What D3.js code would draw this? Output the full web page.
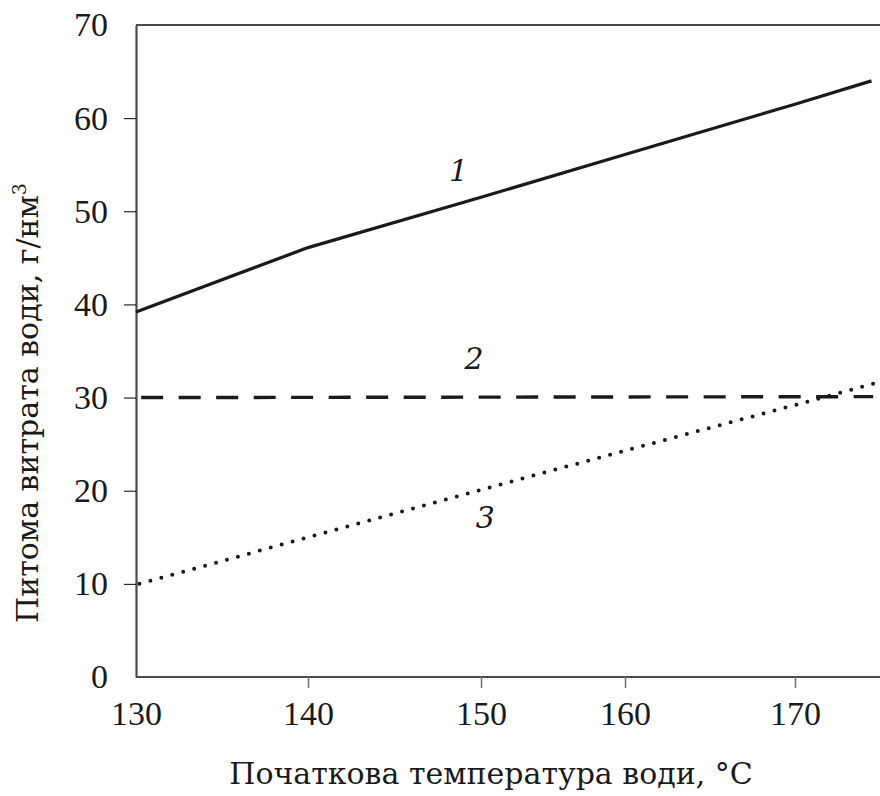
<!DOCTYPE html>
<html><head><meta charset="utf-8">
<script src="https://cdn.jsdelivr.net/npm/d3@7"></script>
<style>
body{margin:0;background:#fff;}
svg text{font-family:"Liberation Serif","Times New Roman",serif;fill:#1a1a1a;}
</style></head>
<body><svg id="c" width="880" height="796"></svg>
<script>
// Data
const xTicks = [130, 140, 150, 160, 170];
const yTicks = [0, 10, 20, 30, 40, 50, 60, 70];
const curve1T = [130, 140, 150, 160, 170, 174.5];
const curve1V = [39.2, 46.1, 51.5, 56.1, 61.5, 64.0];
const curve2T = [130.3, 174.6];
const curve2V = [30.0, 30.1];
const curve3T = [130.2, 140, 150, 160, 170, 174.8];
const curve3V = [10.0, 15.0, 20.1, 24.3, 29.2, 31.6];
const curveLabels = ["1", "2", "3"];
const labelT = [148.7, 149.6, 150.3];
const labelV = [53.3, 33.1, 16.0];
const xTitle = "Початкова температура води, °C";
const yTitleMain = "Питома витрата води, г/нм";
const yTitleSup = "3";

const svg = d3.select("#c");
// Piecewise-linear x scale reproducing the tick spacing of the original figure
const x = d3.scaleLinear().domain([130, 140, 150, 160, 170, 175]).range([136, 308, 481, 625, 795, 880]);
const y = d3.scaleLinear().domain([0, 70]).range([677, 25]);

const axisColor = "#4a4a4a";
const titleFont = "'DejaVu Serif', serif";

// top border
svg.append("line").attr("x1", x(130)).attr("x2", 880).attr("y1", y(70)).attr("y2", y(70))
  .attr("stroke", axisColor).attr("stroke-width", 2);

// x axis
const gx = svg.append("g").attr("transform", `translate(0,${y(0)})`)
  .call(d3.axisBottom(x).tickValues(xTicks).tickSize(11).tickPadding(13).tickSizeOuter(0).tickFormat(d3.format("d")));
gx.select(".domain").attr("stroke", axisColor).attr("stroke-width", 2.2).attr("d", `M${x(130)},0H880`);
gx.selectAll(".tick line").attr("stroke", "#777").attr("stroke-width", 1.6);
gx.selectAll(".tick").filter(d => d === 130).select("line").remove();
gx.selectAll(".tick text").attr("font-size", 34).attr("fill", "#1a1a1a")
  .style("font-family", "'Liberation Serif', serif");

// y axis
const gy = svg.append("g").attr("transform", `translate(${x(130)},0)`)
  .call(d3.axisLeft(y).tickValues(yTicks).tickSize(12).tickPadding(16).tickSizeOuter(0).tickFormat(d3.format("d")));
gy.select(".domain").attr("stroke", axisColor).attr("stroke-width", 2.2);
gy.selectAll(".tick").filter(d => d === 0 || d === 70).select("line").remove();
gy.selectAll(".tick text").attr("font-size", 34).attr("fill", "#1a1a1a")
  .style("font-family", "'Liberation Serif', serif");

const line = d3.line().x(d => x(d[0])).y(d => y(d[1]));
const zip = (a, b) => a.map((t, i) => [t, b[i]]);

svg.append("path").datum(zip(curve1T, curve1V)).attr("d", line)
  .attr("fill", "none").attr("stroke", "#1a1a1a").attr("stroke-width", 3.2).attr("stroke-linejoin", "round");
svg.append("path").datum(zip(curve2T, curve2V)).attr("d", line)
  .attr("fill", "none").attr("stroke", "#1a1a1a").attr("stroke-width", 3.4).attr("stroke-dasharray", "22 15.5");
svg.append("path").datum(zip(curve3T, curve3V)).attr("d", line)
  .attr("fill", "none").attr("stroke", "#1a1a1a").attr("stroke-width", 4).attr("stroke-linecap", "round")
  .attr("stroke-dasharray", "0 11.35");

// curve number labels
svg.selectAll("text.cl").data(curveLabels).enter().append("text").attr("class", "cl")
  .attr("x", (d, i) => x(labelT[i])).attr("y", (d, i) => y(labelV[i]))
  .attr("text-anchor", "middle").attr("font-size", 30).attr("font-style", "italic")
  .style("font-family", titleFont).text(d => d);

// axis titles
svg.append("text").attr("x", 491).attr("y", 784).attr("text-anchor", "middle")
  .attr("font-size", 30).style("font-family", titleFont).text(xTitle);
const yt = svg.append("text").attr("transform", "translate(38,403) rotate(-90)").attr("text-anchor", "middle")
  .attr("font-size", 30).style("font-family", titleFont);
yt.append("tspan").text(yTitleMain);
yt.append("tspan").attr("font-size", 19).attr("dy", -12).text(yTitleSup);
</script></body></html>
